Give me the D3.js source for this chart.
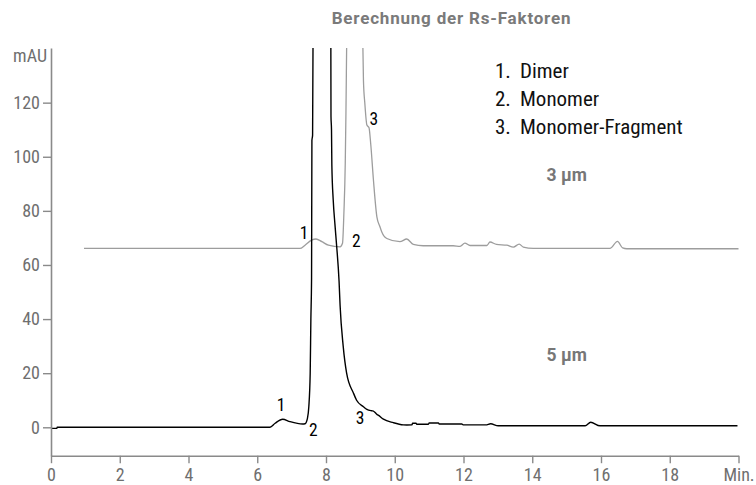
<!DOCTYPE html>
<html>
<head>
<meta charset="utf-8">
<script src="https://cdn.jsdelivr.net/npm/d3@7"></script>
<style>
  body { margin: 0; background: #fff; }
  svg text { font-family: "Roboto Condensed", "Liberation Sans Narrow", "DejaVu Sans Condensed", sans-serif; }
  svg text.wide { font-family: Roboto, "Liberation Sans", sans-serif; font-weight: bold; }
</style>
</head>
<body>
<svg id="chart" width="756" height="485"></svg>
<script>
// 5 µm column (black trace): retention time (min) and signal (mAU)
const time5 = [0, 0.17, 0.18, 6.37, 6.52, 6.74, 6.95, 7.32, 7.39, 7.46, 7.5, 7.54, 7.56, 7.58, 7.59, 7.61,
  7.64, 7.75, 7.95, 8.08, 8.14, 8.145, 8.16, 8.17, 8.21, 8.26, 8.31, 8.38, 8.41, 8.5, 8.6, 8.8, 8.89, 9.09,
  9.19, 9.33, 9.38, 9.48, 9.52, 9.67, 9.96, 10.25, 10.35, 10.5, 10.52, 10.62, 10.64, 10.98, 11.0, 11.27,
  11.3, 11.95, 12.0, 12.65, 12.79, 13.01, 15.54, 15.7, 15.97, 19.97];
const signal5 = [-0.4, -0.4, 0, 0, 1.5, 3.0, 2.1, 1.2, 1.3, 3.3, 7.6, 20, 40, 55, 106, 108,
  200, 380, 460, 380, 150, 115, 110, 97, 84, 75, 67, 54, 45, 30, 20, 12.6, 10, 7.6,
  6.6, 6.1, 6.0, 4.8, 4.5, 3.0, 1.7, 0.9, 0.85, 0.9, 1.5, 1.5, 1.1, 1.1, 1.6, 1.6,
  1.2, 1.2, 0.9, 0.9, 1.3, 0.55, 0.55, 1.85, 0.55, 0.55];

// 3 µm column (grey trace), shown with its own baseline offset
const time3 = [0.96, 7.24, 7.39, 7.58, 7.71, 7.88, 8.07, 8.41, 8.48, 8.52, 8.56, 8.58, 8.6, 8.7, 8.85,
  9.0, 9.06, 9.09, 9.13, 9.19, 9.25, 9.3, 9.38, 9.48, 9.57, 9.62, 9.77, 10.15, 10.35, 10.54, 10.83,
  11.7, 11.9, 12.04, 12.19, 12.68, 12.77, 12.96, 13.26, 13.45, 13.62, 13.74, 14.03, 16.26, 16.48,
  16.63, 16.75, 20.0];
const signal3 = [66.1, 66.1, 67.3, 69.2, 69.6, 68.6, 67.3, 66.7, 68, 79, 97.5, 116, 140, 250, 300,
  250, 150, 128, 119.7, 111.7, 110.8, 104.9, 91.4, 77.8, 74.1, 72.3, 69.8, 68.6, 69.6, 67.6, 67.1,
  67.1, 66.9, 68.1, 67.2, 67.2, 68.5, 67.6, 67.3, 66.6, 67.7, 66.6, 66.1, 66.1, 68.7,
  66.3, 66.0, 66.0];

// axis ticks
const xTicks = [0, 2, 4, 6, 8, 10, 12, 14, 16, 18, 20];
const yTicks = [0, 20, 40, 60, 80, 100, 120];

// peak numbers: [label, time, signal]
const peaks5 = [["1", 6.69, 6.1], ["2", 7.63, -3.2], ["3", 8.99, 1.2]];
const peaks3 = [["1", 7.36, 69.5], ["2", 8.88, 66.5], ["3", 9.39, 111.7]];

const legendNums = ["1.", "2.", "3."];
const legendNames = ["Dimer", "Monomer", "Monomer-Fragment"];

const svg = d3.select("#chart");

const x = d3.scaleLinear().domain([0, 20]).range([51, 738.5]);
const y = d3.scaleLinear().domain([-10.5, 140.2]).range([455.7, 48]);

// clip the traces at the top of the y axis
svg.append("defs").append("clipPath").attr("id", "plot")
  .append("rect")
  .attr("x", x(0)).attr("y", y(140.2))
  .attr("width", x(20) - x(0) + 2).attr("height", y(-10.5) - y(140.2));

const line = d3.line()
  .x(d => x(d[0]))
  .y(d => y(d[1]))
  .curve(d3.curveMonotoneX);

const trace3 = time3.map((t, i) => [t, signal3[i]]);
const trace5 = time5.map((t, i) => [t, signal5[i]]);

const traces = svg.append("g").attr("clip-path", "url(#plot)");
traces.append("path")
  .attr("d", line(trace3))
  .attr("fill", "none")
  .attr("stroke", "#9d9d9d")
  .attr("stroke-width", 1.3);
traces.append("path")
  .attr("d", line(trace5))
  .attr("fill", "none")
  .attr("stroke", "#000")
  .attr("stroke-width", 1.4);

// axes
const axisColor = "#8a8a8a";
const labelColor = "#6f6f6f";

const gx = svg.append("g")
  .attr("transform", `translate(0,${y(-10.5)})`)
  .call(d3.axisBottom(x)
    .tickValues(xTicks)
    .tickSize(7.5)
    .tickSizeOuter(0)
    .tickPadding(5)
    .tickFormat(d => d === 20 ? "Min." : d));

const gy = svg.append("g")
  .attr("transform", `translate(${x(0)},0)`)
  .call(d3.axisLeft(y)
    .tickValues(yTicks)
    .tickSize(8)
    .tickSizeOuter(0)
    .tickPadding(3));

[gx, gy].forEach(g => {
  g.select(".domain").attr("stroke", axisColor).attr("stroke-width", 1.6);
  g.selectAll(".tick line").attr("stroke", axisColor).attr("stroke-width", 1.4);
  g.selectAll(".tick text").attr("fill", labelColor).style("font-size", "18px");
});

svg.append("text")
  .attr("x", x(0) - 4)
  .attr("y", 61.5)
  .attr("text-anchor", "end")
  .attr("fill", labelColor)
  .style("font-size", "18px")
  .text("mAU");

// title
svg.append("text")
  .attr("class", "wide")
  .attr("x", 451.5)
  .attr("y", 24)
  .attr("text-anchor", "middle")
  .attr("fill", "#7a7a7a")
  .style("font-size", "17px")
  .style("letter-spacing", "0.8px")
  .text("Berechnung der Rs-Faktoren");

// legend
const legend = svg.append("g");
legendNums.forEach((n, i) => {
  legend.append("text")
    .attr("x", 495).attr("y", 78 + i * 27.8)
    .attr("fill", "#111")
    .style("font-size", "21px")
    .text(n);
  legend.append("text")
    .attr("x", 520).attr("y", 78 + i * 27.8)
    .attr("fill", "#111")
    .style("font-size", "21px")
    .text(legendNames[i]);
});

// column labels
[["3 µm", 180.7], ["5 µm", 360.7]].forEach(([t, yy]) => {
  svg.append("text")
    .attr("class", "wide")
    .attr("x", 566.7).attr("y", yy)
    .attr("text-anchor", "middle")
    .attr("fill", "#777")
    .style("font-size", "17.5px")
    .text(t);
});

// peak numbers
peaks5.concat(peaks3).forEach(p => {
  svg.append("text")
    .attr("x", x(p[1])).attr("y", y(p[2]))
    .attr("text-anchor", "middle")
    .attr("fill", "#000")
    .style("font-size", "17.5px")
    .text(p[0]);
});
</script>
</body>
</html>
